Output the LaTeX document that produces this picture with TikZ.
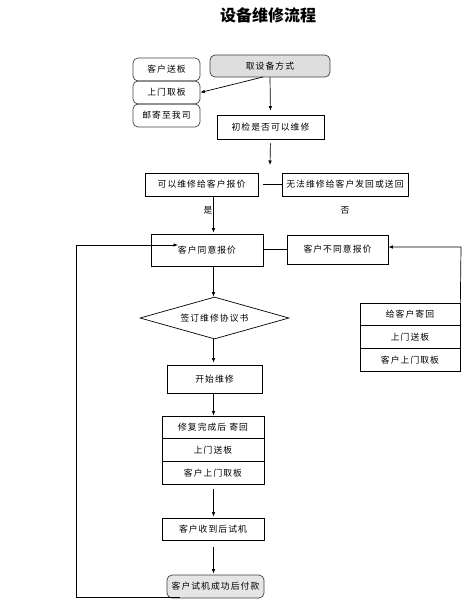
\documentclass[tikz,border=0pt]{standalone}
\usepackage{fontspec}
\setmainfont{Noto Sans CJK SC}
\newfontfamily\cjk[LetterSpace=12]{Noto Sans CJK SC}
\usetikzlibrary{arrows.meta,shapes.geometric,positioning}
\begin{document}
\begin{tikzpicture}[x=1pt,y=-1pt,
  every node/.style={font=\cjk\fontsize{8.8}{10}\selectfont, inner sep=0pt},
  box/.style={draw=black, line width=0.7pt, rectangle, minimum width=#1},
  rbox/.style={draw=black!75, line width=0.7pt, rectangle, rounded corners=5pt, minimum width=#1},
  arr/.style={line width=0.7pt, -{Latex[length=4.5pt,width=3.5pt]}},
  ln/.style={line width=0.7pt}]
\useasboundingbox (0,0) rectangle (474,604);
\node[font=\fontsize{16}{18}\selectfont\bfseries] (title) at (268,15) {设备维修流程};
% top
\node[rbox=120pt, minimum height=22pt, fill=black!13] (get) at (270,66) {取设备方式};
\node[rbox=67pt, minimum height=23pt] (l1) at (166.5,69.5) {客户送板};
\node[rbox=67pt, minimum height=23pt] (l2) at (166.5,92.5) {上门取板};
\node[rbox=67pt, minimum height=23pt] (l3) at (166.5,115.5) {邮寄至我司};
\node[box=107pt, minimum height=24pt] (check) at (270.5,127) {初检是否可以维修};
\node[box=113pt, minimum height=23pt] (quote) at (201.5,184.5) {可以维修给客户报价};
\node[box=126pt, minimum height=23pt] (noquote) at (345,184.5) {无法维修给客户发回或送回};
\node (yes) at (208,210) {是};
\node (no) at (345,210) {否};
\node[box=112pt, minimum height=32pt] (agree) at (207,250) {客户同意报价};
\node[box=101pt, minimum height=29pt] (disagree) at (337.5,249.5) {客户不同意报价};
\node[draw=black, line width=0.7pt, diamond, aspect=3.55, minimum width=149pt, minimum height=42pt] (sign) at (214.5,318) {签订维修协议书};
\node[box=95pt, minimum height=28pt] (start) at (214.5,379) {开始维修};
\node[box=102pt, minimum height=22.7pt] (s1) at (213,427.3) {修复完成后 寄回};
\node[box=102pt, minimum height=22.7pt] (s2) at (213,450) {上门送板};
\node[box=102pt, minimum height=22.7pt] (s3) at (213,472.7) {客户上门取板};
\node[box=102pt, minimum height=22pt] (try) at (213,529) {客户收到后试机};
\node[rbox=97pt, minimum height=23pt, fill=black!10] (pay) at (215.5,586.5) {客户试机成功后付款};
\node[box=100pt, minimum height=22.7pt] (r1) at (410,314.3) {给客户寄回};
\node[box=100pt, minimum height=22.7pt] (r2) at (410,337) {上门送板};
\node[box=100pt, minimum height=22.7pt] (r3) at (410,359.7) {客户上门取板};
% coordinates
\coordinate (col) at (213.5,0);
\coordinate (getout) at (263,77);
\coordinate (qin) at (270,165);
\coordinate (loopA) at (180,597);
\coordinate (loopB) at (76,597);
\coordinate (loopC) at (76,245);
\coordinate (loopD) at (178,245);
\coordinate (rtop) at (461,247);
% connectors
\draw[arr] (getout) -- (l2.east);
\draw[arr, shorten >=4pt] (get.south) -- (check.north);
\draw[arr, shorten <=4pt] (check.south) -- (qin);
\draw[ln, shorten <=5pt] (quote.east) -- (noquote.west);
\draw[arr, shorten >=1pt] (quote.south -| col) -- (agree.north -| col);
\draw[ln] (agree.east |- disagree.west) -- (disagree.west);
\draw[arr] (agree.south -| col) -- (sign.north -| col);
\draw[arr, shorten >=2pt] (sign.south -| col) -- (start.north -| col);
\draw[arr] (start.south -| col) -- (s1.north -| col);
\draw[arr, shorten <=5pt, shorten >=1pt] (s3.south -| col) -- (try.north -| col);
\draw[arr, shorten <=7pt, shorten >=1pt] (try.south -| col) -- (pay.north -| col);
\draw[arr] (loopA) -- (loopB) -- (loopC) -- (loopD);
\draw[arr] (r1.north east) -- (rtop) -- (disagree.east |- rtop);
\end{tikzpicture}
\end{document}
